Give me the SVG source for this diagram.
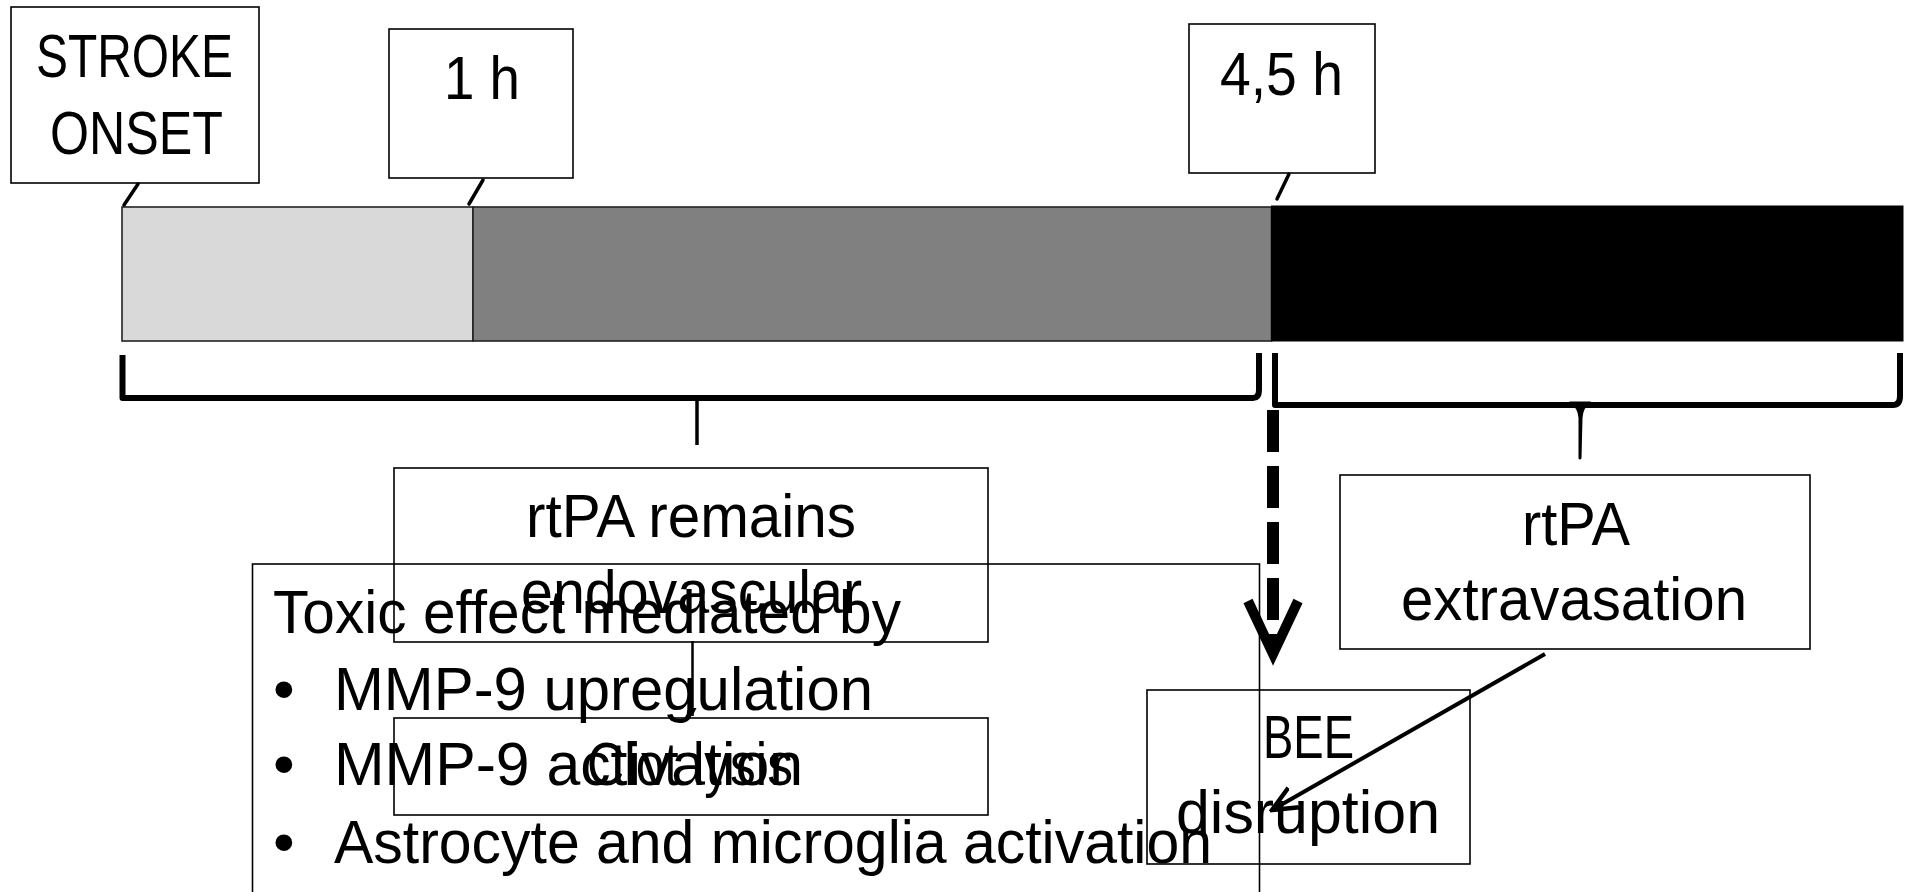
<svg xmlns="http://www.w3.org/2000/svg" width="1906" height="892" viewBox="0 0 1906 892">
<defs>
<style>
.box{fill:none;stroke:#000;stroke-width:1.6}
.tbox{fill:#fff;stroke:#000;stroke-width:1.6}
.t{font-family:"Liberation Sans",Arial,sans-serif;font-size:62px;fill:#000}
.tick{stroke:#000;stroke-width:3.5;fill:none;stroke-linecap:round}
.brace{fill:none;stroke:#000;stroke-width:6;stroke-linejoin:round}
.conn{stroke:#000;fill:none}
</style>
<marker id="ah" viewBox="0 0 10 10" refX="10" refY="5" markerWidth="8" markerHeight="8" markerUnits="userSpaceOnUse" orient="auto">
<path d="M0,0 L10,5 L0,10 z" fill="#000"/>
</marker>
<marker id="ah2" viewBox="0 0 10 10" refX="9" refY="5" markerWidth="7" markerHeight="7" orient="auto">
<path d="M0,1 L9,5 L0,9" fill="none" stroke="#000" stroke-width="1.6"/>
</marker>
</defs>

<g id="timeline">
<rect x="122" y="207" width="351" height="134" fill="#d9d9d9" stroke="#222" stroke-width="1.6"/>
<rect x="473" y="207" width="798.5" height="134" fill="#808080" stroke="#222" stroke-width="1.6"/>
<rect x="1271.5" y="206" width="631.5" height="135" fill="#000" stroke="#000" stroke-width="1"/>
</g>

<g id="stroke-onset">
<rect class="tbox" x="11" y="7" width="248" height="176"/>
<text class="t" x="36" y="77" textLength="197" lengthAdjust="spacingAndGlyphs">STROKE</text>
<text class="t" x="50" y="154" textLength="173" lengthAdjust="spacingAndGlyphs">ONSET</text>
</g>

<g id="t1h">
<rect class="tbox" x="389" y="29" width="184" height="149"/>
<text class="t" x="444" y="99" textLength="76" lengthAdjust="spacingAndGlyphs">1 h</text>
</g>

<g id="t45h">
<rect class="tbox" x="1189" y="24" width="186" height="149"/>
<text class="t" x="1220" y="95" textLength="123" lengthAdjust="spacingAndGlyphs">4,5 h</text>
</g>

<g id="toxic">
<rect class="box" x="252.5" y="564" width="1007" height="340"/>
<text class="t" x="273" y="633" textLength="628" lengthAdjust="spacingAndGlyphs">Toxic effect mediated by</text>
<text class="t" x="273" y="710">•</text>
<text class="t" x="334" y="710" textLength="539" lengthAdjust="spacingAndGlyphs">MMP-9 upregulation</text>
<text class="t" x="273" y="785">•</text>
<text class="t" x="334" y="785" textLength="469" lengthAdjust="spacingAndGlyphs">MMP-9 activation</text>
<text class="t" x="273" y="863">•</text>
<text class="t" x="334" y="863" textLength="878" lengthAdjust="spacingAndGlyphs">Astrocyte and microglia activation</text>
</g>

<g id="rtpa-remains">
<rect class="box" x="394" y="468" width="594" height="174"/>
<text class="t" x="526" y="537" textLength="330" lengthAdjust="spacingAndGlyphs">rtPA remains</text>
<text class="t" x="521" y="613" textLength="341" lengthAdjust="spacingAndGlyphs">endovascular</text>
</g>

<g id="clot-lysis">
<rect class="box" x="394" y="718" width="594" height="97"/>
<text class="t" x="587" y="785" textLength="206" lengthAdjust="spacingAndGlyphs">Clot lysis</text>
</g>

<g id="rtpa-extravasation">
<rect class="box" x="1340" y="475" width="470" height="174"/>
<text class="t" x="1522" y="545" textLength="108" lengthAdjust="spacingAndGlyphs">rtPA</text>
<text class="t" x="1401" y="620" textLength="346" lengthAdjust="spacingAndGlyphs">extravasation</text>
</g>

<g id="bee-disruption">
<rect class="box" x="1147" y="690" width="323" height="174"/>
<text class="t" x="1263" y="758" textLength="91" lengthAdjust="spacingAndGlyphs">BEE</text>
<text class="t" x="1176" y="833" textLength="264" lengthAdjust="spacingAndGlyphs">disruption</text>
</g>

<g id="connectors">
<line class="tick" x1="138" y1="184" x2="124" y2="205"/>
<line class="tick" x1="483" y1="180" x2="469" y2="204"/>
<line class="tick" x1="1289" y1="174" x2="1277" y2="199"/>
<path class="brace" d="M122.5,355 L122.5,398 L1253,398 Q1259,398 1259,390 L1259,353"/>
<line class="conn" x1="697" y1="399" x2="697" y2="445" stroke-width="3.5"/>
<path class="brace" d="M1275,353 L1275,405 L1893,405 Q1900,405 1900,396 L1900,353"/>
<path d="M1570,403 Q1579,405 1580,418 L1580,458 L1581,418 Q1582,405 1590,403 Z" fill="#000" stroke="#000" stroke-width="3" stroke-linejoin="round"/>
<line class="conn" x1="1273" y1="410" x2="1273" y2="648" stroke-width="12" stroke-dasharray="42 14"/>
<polyline class="conn" points="1248,601 1273,654 1298,601" stroke-width="10" stroke-linejoin="miter"/>
<line class="conn" x1="692.5" y1="641" x2="692.5" y2="716" stroke-width="2.5" marker-end="url(#ah)"/>
<line class="conn" x1="1545" y1="654" x2="1272" y2="810" stroke-width="4" marker-end="url(#ah2)"/>
</g>
</svg>
